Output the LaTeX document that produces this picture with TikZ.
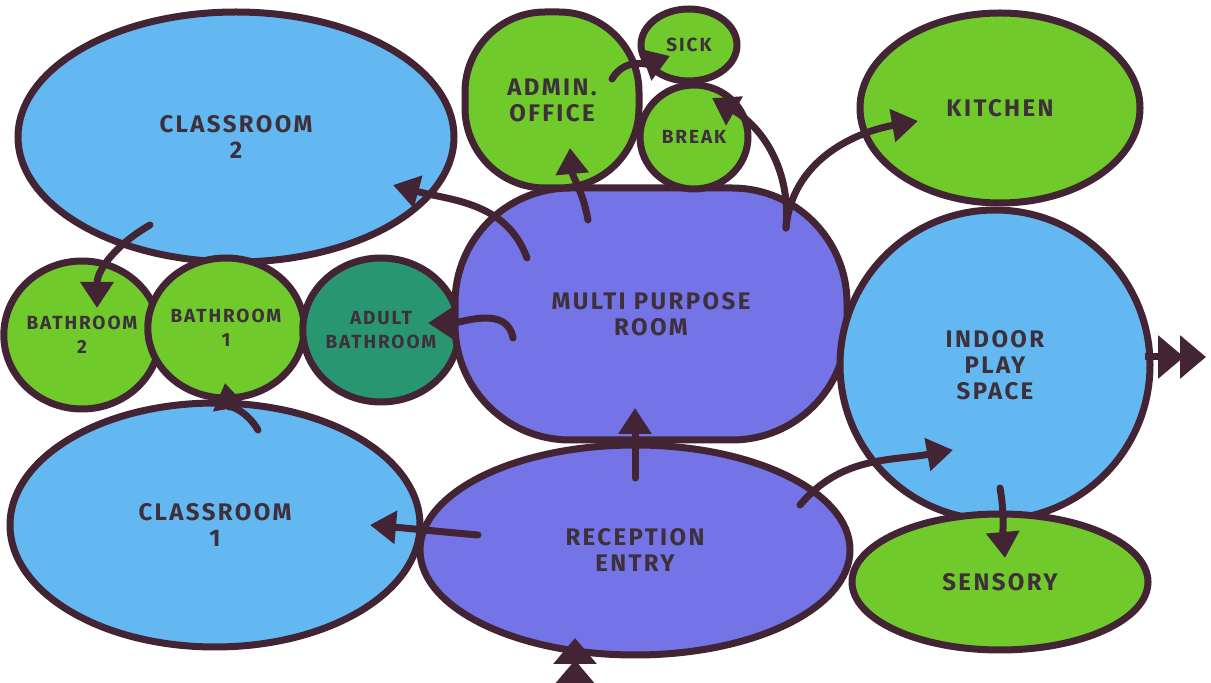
\documentclass[tikz,border=0pt]{standalone}
\usepackage{fontspec}
\setmainfont{Fira Sans}[LetterSpace=10]
\usetikzlibrary{arrows.meta}
\usetikzlibrary{shapes.geometric}
\usetikzlibrary{calc}

\definecolor{ink}{RGB}{66,36,52}
\definecolor{lettering}{RGB}{62,48,58}
\definecolor{sky}{RGB}{100,184,242}
\definecolor{violet}{RGB}{116,116,230}
\definecolor{leaf}{RGB}{112,202,44}
\definecolor{teal}{RGB}{40,150,112}

\tikzset{
    bubble/.style={draw=ink, line width=7pt, align=center, inner sep=0pt, text=lettering,
        font=\bfseries\fontsize{24}{26}\selectfont},
    room/.style={bubble, ellipse},
    hall/.style={bubble, rectangle, rounded corners=#1},
    small/.style={font=\bfseries\fontsize{19}{24}\selectfont},
    flow/.style={draw=ink, line width=7pt, line cap=round, -{Triangle[length=26pt,width=32pt]}},
    twin/.style={draw=ink, line width=7pt, -{Triangle[length=26pt,width=42pt,sep=-4pt]Triangle[length=26pt,width=42pt]}},
}

\begin{document}
\begin{tikzpicture}[x=1pt, y=1pt]
    \useasboundingbox (0, 0) rectangle (1211, 683);
    % bubbles
    \node[room, fill=sky, minimum width=436, minimum height=250] (class2) at (236, 546) {CLASSROOM\\2};
    \node[room, fill=sky, minimum width=410, minimum height=244] (class1) at (215, 158) {CLASSROOM\\1};
    \node[room, small, fill=leaf, minimum width=144, minimum height=148] (bath2) at (82, 348) {BATHROOM\\2};
    \node[room, small, fill=leaf, minimum width=140, minimum height=140] (bath1) at (226, 355) {BATHROOM\\1};
    \node[room, small, fill=teal, minimum width=156, minimum height=144] (adult) at (381, 353) {ADULT\\BATHROOM};
    \node[hall=115, fill=violet, minimum width=392, minimum height=252] (multi) at (651, 369) {MULTI PURPOSE\\ROOM};
    \node[room, fill=violet, minimum width=430, minimum height=210] (recep) at (635, 133) {RECEPTION\\ENTRY};
    \node[hall=80, fill=leaf, minimum width=174, minimum height=176] (admin) at (552, 583) {ADMIN.\\OFFICE};
    \node[room, small, fill=leaf, minimum width=96, minimum height=72] (sick) at (689, 638) {SICK};
    \node[room, small, fill=leaf, minimum width=108, minimum height=104] (break) at (694, 546) {BREAK};
    \node[room, fill=leaf, minimum width=280, minimum height=190] (kitchen) at (1000, 575) {KITCHEN};
    \node[room, fill=sky, minimum width=310, minimum height=310] (play) at (995, 318) {INDOOR\\PLAY\\SPACE};
    \node[room, fill=leaf, minimum width=296, minimum height=136] (sensory) at (1000, 101) {SENSORY};
    \coordinate (door) at (575, -10);
    \coordinate (exit) at (1206, 326);

    % circulation
    \draw[flow] ($(multi)+(-124,56)$) to[out=110, in=-15] ($(class2)+(157,-48)$);
    \draw[flow] ($(class2)+(-86,-88)$) to[out=210, in=90] ($(bath2)+(15,27)$);
    \draw[flow] ($(class1)+(43,95)$) to[out=120, in=-80] ($(bath1)+(-1,-55)$);
    \draw[flow] ($(multi)+(-138,-24)$) to[out=100, in=0] ($(adult)+(47,7)$);
    \draw[flow] ($(multi)+(-63,94)$) to[out=100, in=-85] ($(admin)+(18,-48)$);
    \draw[flow] ($(admin)+(60,21)$) to[out=60, in=200] ($(sick)+(-19,-11)$);
    \draw[flow] ($(multi)+(135,86)$) to[out=85, in=-30] ($(break)+(18,39)$);
    \draw[flow] ($(multi)+(135,86)$) to[out=85, in=190] ($(kitchen)+(-82,-13)$);
    \draw[flow] ($(recep)+(0,72)$) -- ($(multi)+(-16,-94)$);
    \draw[flow] ($(recep)+(-157,15)$) to[out=175, in=-5] ($(class1)+(155,0)$);
    \draw[flow] ($(recep)+(165,45)$) to[out=50, in=190] ($(play)+(-42,-85)$);
    \draw[flow] ($(play)+(5,-123)$) to[out=-80, in=95] ($(sensory)+(5,24)$);
    \draw[twin] (door) -- ($(recep)+(-60,-88)$);
    \draw[twin] ($(play)+(150,8)$) -- (exit);
\end{tikzpicture}
\end{document}
